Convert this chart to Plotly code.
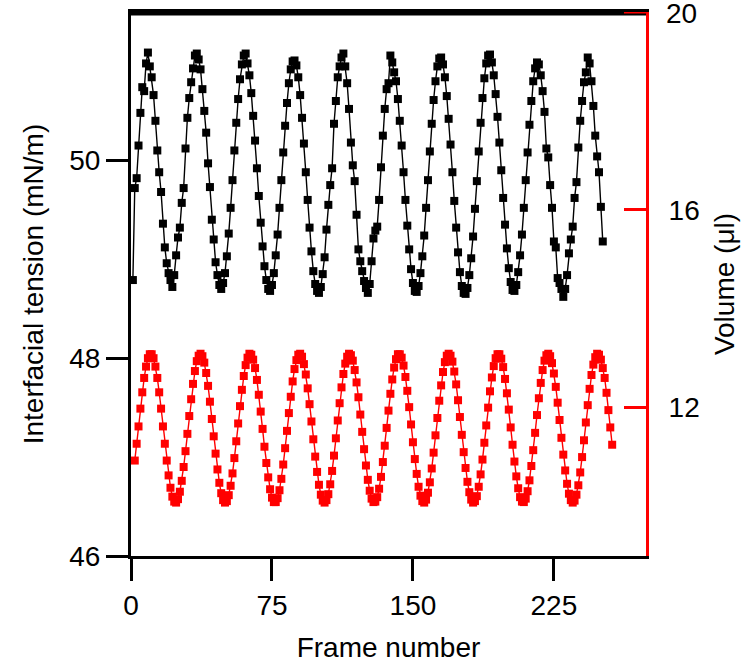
import plotly.graph_objects as go

# Frame numbers (one sample per frame)
frames_tension = list(range(1, 252))
frames_volume = list(range(2, 257))

# Interfacial tension (mN/m), read from the black series
tension = [
    48.79, 49.72, 49.82, 50.15, 50.48, 50.74, 50.70, 50.98, 51.09, 50.95, 50.84, 50.66, 50.40,
    50.10, 49.88, 49.68, 49.36, 49.12, 48.96, 48.86, 48.79, 48.72, 48.84, 49.04, 49.22,
    49.32, 49.57, 49.72, 50.12, 50.43, 50.63, 50.79, 50.93, 51.06, 51.08, 51.02, 50.92, 50.72,
    50.50, 50.28, 49.97, 49.73, 49.40, 49.20, 48.97, 48.84, 48.74, 48.70, 48.76, 48.86, 49.03,
    49.26, 49.52, 49.80, 50.10, 50.38, 50.62, 50.82, 50.97, 51.06, 51.08, 50.98, 50.86, 50.68,
    50.45, 50.20, 49.92, 49.64, 49.37, 49.13, 48.93, 48.79, 48.70, 48.68, 48.74, 48.86, 49.04,
    49.25, 49.52, 49.80, 50.08, 50.35, 50.58, 50.78, 50.92, 51.00, 51.01, 50.96, 50.84, 50.66,
    50.43, 50.17, 49.88, 49.60, 49.32, 49.08, 48.88, 48.75, 48.68, 48.66, 48.72, 48.85, 49.02,
    49.30, 49.55, 49.75, 49.92, 50.37, 50.60, 50.84, 50.95, 51.04, 51.08, 50.95, 50.78, 50.52,
    50.18, 49.95, 49.79, 49.45, 49.10, 48.98, 48.88, 48.78, 48.71, 48.66, 48.75, 48.98, 49.21,
    49.29, 49.33, 49.60, 49.93, 50.25, 50.52, 50.72, 50.78, 51.06, 50.99, 50.89, 50.80, 50.62,
    50.40, 50.15, 49.88, 49.60, 49.34, 49.10, 48.90, 48.76, 48.68, 48.67, 48.73, 48.86, 49.03,
    49.24, 49.52, 49.80, 50.09, 50.37, 50.61, 50.80, 50.95, 51.03, 51.04, 50.97, 50.84, 50.65,
    50.42, 50.16, 49.88, 49.59, 49.32, 49.07, 48.87, 48.73, 48.66, 48.65, 48.71, 48.84, 49.01,
    49.23, 49.51, 49.79, 50.09, 50.38, 50.63, 50.83, 50.98, 51.06, 51.07, 50.99, 50.86, 50.67,
    50.44, 50.18, 49.90, 49.62, 49.35, 49.11, 48.91, 48.77, 48.69, 48.68, 48.74, 48.87, 49.04,
    49.25, 49.52, 49.80, 50.08, 50.36, 50.60, 50.80, 50.93, 50.99, 50.97, 50.86, 50.70, 50.49,
    50.12, 50.03, 49.75, 49.52, 49.18, 49.12, 48.81, 48.76, 48.70, 48.62, 48.70, 48.84, 49.06,
    49.20, 49.33, 49.62, 49.78, 50.13, 50.40, 50.60, 50.79, 50.89, 51.04, 50.98, 50.80, 50.55,
    50.25, 50.04, 49.88, 49.53, 49.18,
]

# Volume (ul), read from the red series
volume = [
    10.93, 11.27, 11.62, 11.98, 12.31, 12.60, 12.83, 13.00, 13.08, 13.08, 13.00, 12.83, 12.60,
    12.31, 11.98, 11.62, 11.27, 10.93, 10.63, 10.38, 10.20, 10.10,
    10.08, 10.15, 10.30, 10.52, 10.80, 11.12, 11.47, 11.83, 12.17, 12.48, 12.74, 12.94, 13.05,
    13.09, 13.04, 12.91, 12.70, 12.44, 12.12, 11.77, 11.42, 11.07, 10.75, 10.48, 10.27, 10.13, 10.08,
    10.11, 10.23, 10.42, 10.67, 10.98, 11.32, 11.68, 12.03, 12.36, 12.64, 12.86, 13.01, 13.09,
    13.07, 12.97, 12.80, 12.56, 12.26, 11.92, 11.57, 11.21, 10.88, 10.59, 10.35, 10.18, 10.09,
    10.09, 10.17, 10.33, 10.56, 10.85, 11.18, 11.53, 11.89, 12.22, 12.53, 12.78, 12.96, 13.07,
    13.09, 13.03, 12.88, 12.67, 12.39, 12.07, 11.72, 11.36, 11.01, 10.70, 10.44, 10.24, 10.12,
    10.08, 10.13, 10.25, 10.45, 10.72, 11.03, 11.38, 11.74, 12.09, 12.41, 12.68, 12.89, 13.03,
    13.09, 13.06, 12.95, 12.76, 12.51, 12.21, 11.86, 11.51, 11.16, 10.83, 10.54, 10.32, 10.16, 10.09,
    10.10, 10.19, 10.36, 10.60, 10.90, 11.23, 11.59, 11.94, 12.28, 12.57, 12.81, 12.98, 13.08,
    13.08, 13.01, 12.85, 12.62, 12.34, 12.01, 11.66, 11.30, 10.96, 10.66, 10.40, 10.22, 10.11,
    10.08, 10.14, 10.28, 10.49, 10.77, 11.09, 11.44, 11.79, 12.14, 12.45, 12.72, 12.92, 13.05,
    13.09, 13.05, 12.93, 12.73, 12.47, 12.15, 11.81, 11.45, 11.10, 10.78, 10.50, 10.29, 10.14, 10.08,
    10.11, 10.21, 10.40, 10.65, 10.95, 11.29, 11.64, 12.00, 12.33, 12.61, 12.84, 13.00, 13.08,
    13.08, 12.99, 12.82, 12.58, 12.29, 11.96, 11.60, 11.25, 10.91, 10.61, 10.37, 10.19, 10.10,
    10.09, 10.16, 10.31, 10.53, 10.82, 11.14, 11.49, 11.85, 12.19, 12.50, 12.76, 12.95, 13.06,
    13.09, 13.04, 12.90, 12.69, 12.42, 12.10, 11.75, 11.39, 11.05, 10.73, 10.46, 10.26, 10.13, 10.08,
    10.12, 10.24, 10.43, 10.69, 11.00, 11.34, 11.70, 12.05, 12.38, 12.66, 12.87, 13.02, 13.09,
    13.07, 12.97, 12.80, 12.60, 12.30, 11.95, 11.60, 11.25,
]

x_ticks = [0, 75, 150, 225]
y_ticks = [46, 48, 50]
y2_ticks = [12, 16, 20]
y2_labels = [str(v) for v in y2_ticks]

FONT = "Liberation Sans, Arial, sans-serif"
RED = "#ff0000"
FS = 28

fig = go.Figure()
fig.add_trace(go.Scatter(
    x=frames_tension, y=tension, mode="lines+markers",
    line=dict(color="black", width=1.4),
    marker=dict(symbol="square", size=8, color="black"),
    yaxis="y", cliponaxis=False,
))
fig.add_trace(go.Scatter(
    x=frames_volume, y=volume, mode="lines+markers",
    line=dict(color=RED, width=1.4),
    marker=dict(symbol="square", size=8, color=RED),
    yaxis="y2", cliponaxis=False,
))

# top frame edge (plot border) as a filled band, and the 20 tick on the volume axis
fig.add_shape(type="rect", xref="paper", yref="paper", x0=-0.003, x1=1.0,
              y0=1.0 - 3.5 / 544, y1=1.0 + 1.5 / 544, fillcolor="#000000",
              line=dict(width=0), layer="above")
fig.add_shape(type="line", xref="paper", yref="y2", x0=1 - 22 / 514, x1=1.003,
              y0=y2_ticks[-1], y1=y2_ticks[-1], line=dict(color=RED, width=3), layer="above")
fig.add_annotation(xref="paper", yref="y2", x=1.0, y=y2_ticks[-1], text=y2_labels[-1],
                   showarrow=False, xanchor="left", yanchor="middle", xshift=18, yshift=-1,
                   font=dict(size=FS, color="black", family=FONT))

fig.update_layout(
    width=744, height=668,
    margin=dict(l=131, r=98, t=12, b=112),
    paper_bgcolor="white", plot_bgcolor="white",
    showlegend=False,
    font=dict(family=FONT, size=FS, color="black"),
    xaxis=dict(
        range=[0, 274], tickvals=x_ticks, ticks="outside", ticklen=22, tickwidth=3,
        tickcolor="black", showline=True, linewidth=3, linecolor="black", mirror=True,
        showgrid=False, zeroline=False, automargin=False,
        tickfont=dict(size=FS),
        title=dict(text="Frame number", font=dict(size=FS), standoff=18),
    ),
    yaxis=dict(
        range=[46, 51.5], tickvals=y_ticks, ticks="outside", ticklen=22, tickwidth=3,
        tickcolor="black", showline=True, linewidth=3, linecolor="black",
        showgrid=False, zeroline=False, automargin=False,
        tickfont=dict(size=FS),
        title=dict(text="Interfacial tension (mN/m)", font=dict(size=FS), standoff=18),
    ),
    yaxis2=dict(
        range=[9, 20], tickvals=y2_ticks, ticktext=y2_labels, overlaying="y", side="right",
        ticks="inside", ticklen=22, tickwidth=3, tickcolor=RED,
        showline=True, linewidth=3, linecolor=RED,
        showgrid=False, zeroline=False, automargin=False,
        ticklabelstandoff=14,
        tickfont=dict(size=FS, color="black"),
        title=dict(text="Volume (\u03bcl)", font=dict(size=FS), standoff=16),
    ),
)

fig.write_html("out.html", config={"displayModeBar": False})
